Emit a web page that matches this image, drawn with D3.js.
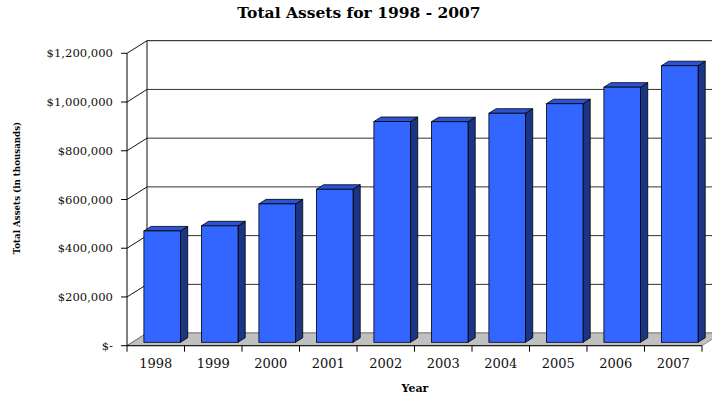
<!DOCTYPE html>
<html>
<head>
<meta charset="utf-8">
<script src="https://cdn.jsdelivr.net/npm/d3@7"></script>
<style>
  html, body { margin: 0; padding: 0; background: #fff; }
  svg { display: block; }
</style>
</head>
<body>
<svg id="chart" width="712" height="398"></svg>
<script>
// Data
const years = ['1998', '1999', '2000', '2001', '2002', '2003', '2004', '2005', '2006', '2007'];
const assets = [457000, 478000, 568000, 628000, 906000, 905000, 940000, 979000, 1047000, 1135000];
const yTicks = [0, 200000, 400000, 600000, 800000, 1000000, 1200000];

const W = 712, H = 398;
const plot = { left: 127, right: 702, top: 53.3, bottom: 345.7 };
const depth = { dx: 20, dy: -12.6 };   // wall depth offset
const barZ0 = 0.27, barZ1 = 0.63;      // bar front/back position in depth

const svg = d3.select('#chart');
const font = 'DejaVu Serif, serif';

const x = d3.scaleBand().domain(years).range([plot.left, plot.right]);
const y = d3.scaleLinear().domain([0, 1200000]).range([plot.bottom, plot.top]);
const bw = x.bandwidth();

const fmt = v => v === 0 ? '$-' : '$' + d3.format(',')(v);
const pts = arr => arr.map(p => p.join(',')).join(' ');

// Back wall
svg.append('rect')
  .attr('x', plot.left + depth.dx).attr('y', plot.top + depth.dy)
  .attr('width', W).attr('height', plot.bottom - plot.top)
  .attr('fill', '#fff');

// Gridlines on back wall + side wall diagonals
for (const t of yTicks) {
  const yy = y(t);
  svg.append('line')
    .attr('x1', plot.left + depth.dx).attr('x2', W + 10)
    .attr('y1', yy + depth.dy).attr('y2', yy + depth.dy)
    .attr('stroke', t === 1200000 ? '#111' : '#333')
    .attr('stroke-width', 1);
  svg.append('line')
    .attr('x1', plot.left).attr('y1', yy)
    .attr('x2', plot.left + depth.dx).attr('y2', yy + depth.dy)
    .attr('stroke', '#111').attr('stroke-width', 1);
}

// Back wall left edge
svg.append('line')
  .attr('x1', plot.left + depth.dx).attr('x2', plot.left + depth.dx)
  .attr('y1', plot.top + depth.dy).attr('y2', plot.bottom + depth.dy)
  .attr('stroke', '#111');

// Floor
svg.append('polygon')
  .attr('points', pts([
    [plot.left, plot.bottom], [plot.right, plot.bottom],
    [plot.right + depth.dx, plot.bottom + depth.dy], [plot.left + depth.dx, plot.bottom + depth.dy]
  ]))
  .attr('fill', '#c0c0c0')
  .attr('stroke', '#808080')
  .attr('stroke-width', 0.8);

// Bars
const bars = svg.append('g');
years.forEach((yr, i) => {
  const v = assets[i];
  const ox = depth.dx * barZ0, oy = depth.dy * barZ0;
  const ddx = depth.dx * (barZ1 - barZ0), ddy = depth.dy * (barZ1 - barZ0);
  const x0 = x(yr) + ox + bw * 0.2;
  const x1 = x0 + bw * 0.637;
  const yTop = y(v) + oy;
  const yBot = y(0) + oy;

  // side
  bars.append('polygon')
    .attr('points', pts([[x1, yTop], [x1 + ddx, yTop + ddy], [x1 + ddx, yBot + ddy], [x1, yBot]]))
    .attr('fill', '#1b3585').attr('stroke', '#000').attr('stroke-width', 0.8)
    .attr('stroke-linejoin', 'round');
  // top
  bars.append('polygon')
    .attr('points', pts([[x0, yTop], [x0 + ddx, yTop + ddy], [x1 + ddx, yTop + ddy], [x1, yTop]]))
    .attr('fill', '#2a54d6').attr('stroke', '#000').attr('stroke-width', 0.8)
    .attr('stroke-linejoin', 'round');
  // front
  bars.append('rect')
    .attr('x', x0).attr('y', yTop)
    .attr('width', x1 - x0).attr('height', yBot - yTop)
    .attr('fill', '#3366ff').attr('stroke', '#000').attr('stroke-width', 0.8);
});

// Front axis lines
svg.append('line')
  .attr('x1', plot.left).attr('x2', plot.left)
  .attr('y1', plot.top).attr('y2', plot.bottom)
  .attr('stroke', '#000');
svg.append('line')
  .attr('x1', plot.left).attr('x2', plot.right)
  .attr('y1', plot.bottom).attr('y2', plot.bottom)
  .attr('stroke', '#000');

// Y ticks and labels
for (const t of yTicks) {
  svg.append('line')
    .attr('x1', plot.left - 6).attr('x2', plot.left)
    .attr('y1', y(t)).attr('y2', y(t))
    .attr('stroke', '#000');
  svg.append('text')
    .attr('x', plot.left - 14).attr('y', y(t))
    .attr('dy', '0.35em')
    .attr('text-anchor', 'end')
    .attr('font-family', font).attr('font-size', '11.6px')
    .attr('fill', '#111')
    .text(fmt(t));
}

// X ticks and labels
const xTicks = years.map(d => x(d)).concat([plot.right]);
for (const tx of xTicks) {
  svg.append('line')
    .attr('x1', tx).attr('x2', tx)
    .attr('y1', plot.bottom).attr('y2', plot.bottom + 6)
    .attr('stroke', '#000');
}
for (const yr of years) {
  svg.append('text')
    .attr('x', x(yr) + bw / 2).attr('y', 368)
    .attr('text-anchor', 'middle')
    .attr('font-family', font).attr('font-size', '13px')
    .attr('fill', '#111')
    .text(yr);
}

// Titles
svg.append('text')
  .attr('x', 359).attr('y', 18)
  .attr('text-anchor', 'middle')
  .attr('font-family', font).attr('font-size', '15.5px').attr('font-weight', 'bold')
  .text('Total Assets for 1998 - 2007');

svg.append('text')
  .attr('x', 415).attr('y', 392)
  .attr('text-anchor', 'middle')
  .attr('font-family', font).attr('font-size', '11px').attr('font-weight', 'bold')
  .text('Year');

svg.append('text')
  .attr('transform', 'translate(20,188) rotate(-90)')
  .attr('text-anchor', 'middle')
  .attr('font-family', font).attr('font-size', '8.7px').attr('font-weight', 'bold')
  .text('Total Assets (in thousands)');
</script>
</body>
</html>
